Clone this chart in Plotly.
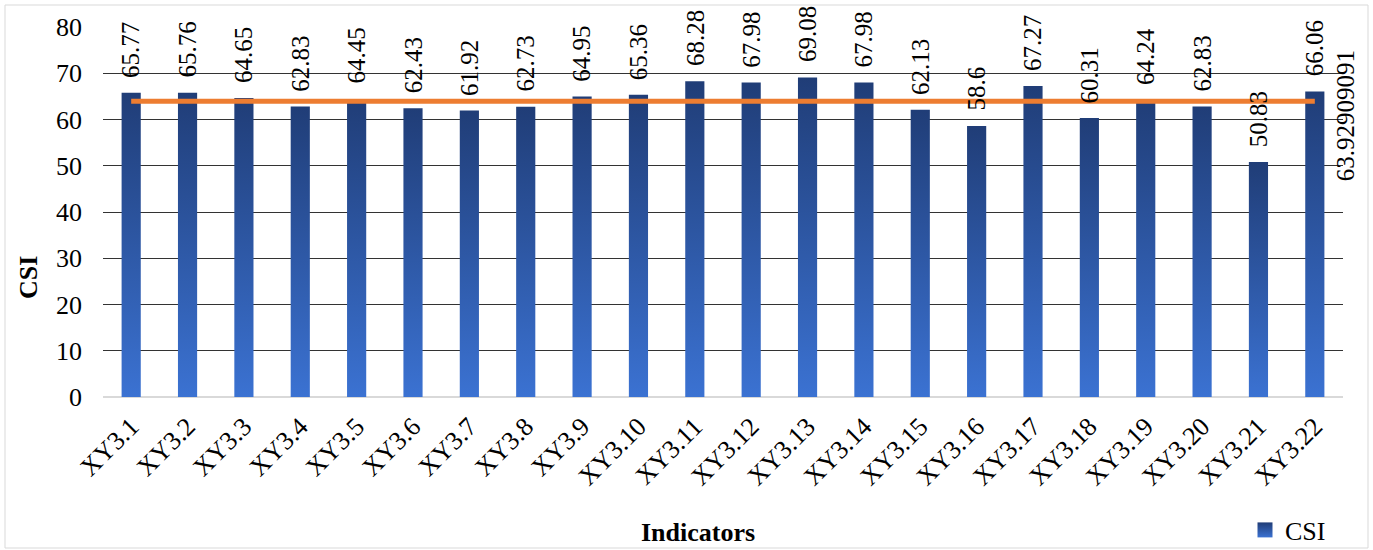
import plotly.graph_objects as go

# Indicator codes and their CSI scores
categories = [f"XY3.{i}" for i in range(1, 23)]
csi_values = [65.77, 65.76, 64.65, 62.83, 64.45, 62.43, 61.92, 62.73, 64.95, 65.36,
              68.28, 67.98, 69.08, 67.98, 62.13, 58.6, 67.27, 60.31, 64.24, 62.83,
              50.83, 66.06]
avg_value = 63.92909091
avg_series = [avg_value] * len(categories)

SERIF = "Liberation Serif"
BAR_W = 0.34
BAR_BOTTOM = "#3B72D2"
BAR_TOP = "#203D77"

fig = go.Figure()

# Bars drawn as filled rectangles so each one gets its own vertical gradient
for i, v in enumerate(csi_values):
    fig.add_trace(go.Scatter(
        x=[i - BAR_W / 2, i - BAR_W / 2, i + BAR_W / 2, i + BAR_W / 2, i - BAR_W / 2],
        y=[0, v, v, 0, 0],
        mode="none",
        fill="toself",
        fillgradient=dict(type="vertical",
                          colorscale=[[0, BAR_BOTTOM], [1, BAR_TOP]]),
        name="CSI",
        legendgroup="csi",
        showlegend=False,
        hoverinfo="skip",
    ))

# Legend entry for the bar series: a small square with the same gradient
fig.add_trace(go.Scatter(
    x=[None], y=[None], mode="markers", name="CSI", legendgroup="csi",
    marker=dict(symbol="square", size=15, color=BAR_TOP,
                gradient=dict(type="vertical", color=BAR_BOTTOM)),
    showlegend=True,
))

# Average line
fig.add_trace(go.Scatter(
    x=list(range(len(categories))), y=avg_series,
    mode="lines",
    line=dict(color="#ED7D31", width=5),
    showlegend=False,
    hoverinfo="skip",
))

annotations = []
for i, v in enumerate(csi_values):
    annotations.append(dict(
        x=i, y=v, xref="x", yref="y", text=f"{v:g}",
        textangle=-90, showarrow=False, xanchor="center", yanchor="bottom",
        yshift=13, font=dict(family=SERIF, size=25, color="black"),
    ))

# Label of the average at the end of the line
annotations.append(dict(
    x=len(categories) - 1, y=avg_series[-1], xref="x", yref="y",
    text=f"{avg_value:.8f}".rstrip("0"),
    textangle=-90, showarrow=False, xanchor="center", yanchor="middle",
    xshift=31, yshift=-14, font=dict(family=SERIF, size=25, color="black"),
))

# Axis titles
annotations.append(dict(
    x=(698 - 103) / 1240, y=(397 - 532) / 370, xref="paper", yref="paper",
    text="<b>Indicators</b>", showarrow=False, xanchor="center", yanchor="middle",
    font=dict(family=SERIF, size=26, color="black"),
))
annotations.append(dict(
    x=(28 - 103) / 1240, y=(397 - 278) / 370, xref="paper", yref="paper",
    text="<b>CSI</b>", textangle=-90, showarrow=False, xanchor="center", yanchor="middle",
    font=dict(family=SERIF, size=26, color="black"),
))

fig.update_layout(
    width=1373, height=550,
    margin=dict(l=103, r=30, t=27, b=153, autoexpand=False),
    paper_bgcolor="white", plot_bgcolor="white",
    font=dict(family=SERIF, size=26, color="black"),
    xaxis=dict(
        range=[-0.5, len(categories) - 0.5],
        tickmode="array", tickvals=list(range(len(categories))), ticktext=categories,
        tickangle=-45, showgrid=False, zeroline=False, showline=False,
        ticks="", ticklabelstandoff=8, automargin=False,
        tickfont=dict(family=SERIF, size=26, color="black"),
    ),
    yaxis=dict(
        range=[0, 80], dtick=10, showgrid=True, gridcolor="#333333", gridwidth=1,
        zeroline=True, zerolinecolor="#d9d9d9", zerolinewidth=2,
        showline=False, ticks="", ticklabelstandoff=20, automargin=False,
        tickfont=dict(family=SERIF, size=26, color="black"),
    ),
    legend=dict(
        x=(1245 - 103) / 1240, y=(397 - 530) / 370, xanchor="left", yanchor="middle",
        font=dict(family=SERIF, size=26, color="black"),
        bgcolor="rgba(0,0,0,0)", itemwidth=30,
    ),
    annotations=annotations,
    shapes=[dict(
        type="rect", xref="paper", yref="paper",
        x0=(5 - 103) / 1240, x1=(1368 - 103) / 1240,
        y0=(397 - 548) / 370, y1=(397 - 5) / 370,
        line=dict(color="#d9d9d9", width=1), layer="below",
    )],
)

fig.write_html("out.html")
